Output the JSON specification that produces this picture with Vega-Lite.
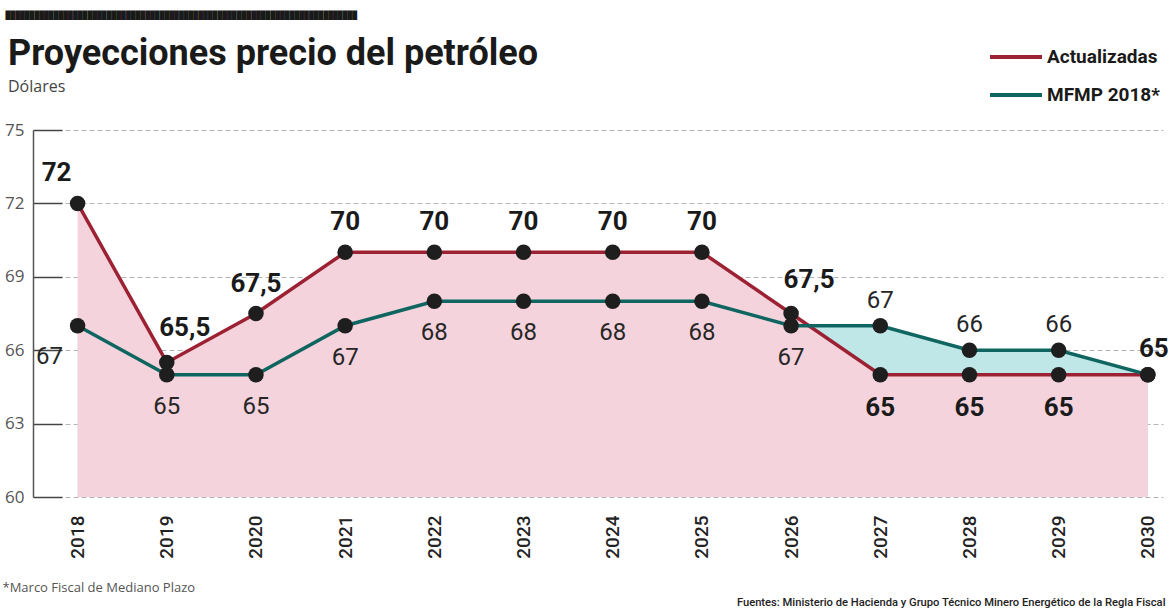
{
  "$schema": "https://vega.github.io/schema/vega-lite/v6.json",
  "width": 1130,
  "height": 367,
  "autosize": "none",
  "padding": {"left": 33, "top": 130, "right": 7, "bottom": 113},
  "background": "white",
  "config": {
    "view": {"stroke": null},
    "locale": {"number": {"decimal": ",", "thousands": ".", "grouping": [3], "currency": ["", "$"]}}
  },
  "title": {
    "text": "Proyecciones precio del petróleo",
    "subtitle": "Dólares",
    "anchor": "start",
    "frame": "group",
    "dx": -25,
    "dy": 89,
    "font": "Roboto",
    "fontSize": 36,
    "fontWeight": "bold",
    "color": "#1a1a1a",
    "subtitleFont": "Open Sans",
    "subtitleFontSize": 16,
    "subtitleColor": "#444444",
    "subtitlePadding": 6
  },
  "data": {
    "values": [
      {"year": 2018, "serie": "Actualizadas", "value": 72},
      {"year": 2019, "serie": "Actualizadas", "value": 65.5},
      {"year": 2020, "serie": "Actualizadas", "value": 67.5},
      {"year": 2021, "serie": "Actualizadas", "value": 70},
      {"year": 2022, "serie": "Actualizadas", "value": 70},
      {"year": 2023, "serie": "Actualizadas", "value": 70},
      {"year": 2024, "serie": "Actualizadas", "value": 70},
      {"year": 2025, "serie": "Actualizadas", "value": 70},
      {"year": 2026, "serie": "Actualizadas", "value": 67.5},
      {"year": 2027, "serie": "Actualizadas", "value": 65},
      {"year": 2028, "serie": "Actualizadas", "value": 65},
      {"year": 2029, "serie": "Actualizadas", "value": 65},
      {"year": 2030, "serie": "Actualizadas", "value": 65},
      {"year": 2018, "serie": "MFMP 2018*", "value": 67},
      {"year": 2019, "serie": "MFMP 2018*", "value": 65},
      {"year": 2020, "serie": "MFMP 2018*", "value": 65},
      {"year": 2021, "serie": "MFMP 2018*", "value": 67},
      {"year": 2022, "serie": "MFMP 2018*", "value": 68},
      {"year": 2023, "serie": "MFMP 2018*", "value": 68},
      {"year": 2024, "serie": "MFMP 2018*", "value": 68},
      {"year": 2025, "serie": "MFMP 2018*", "value": 68},
      {"year": 2026, "serie": "MFMP 2018*", "value": 67},
      {"year": 2027, "serie": "MFMP 2018*", "value": 67},
      {"year": 2028, "serie": "MFMP 2018*", "value": 66},
      {"year": 2029, "serie": "MFMP 2018*", "value": 66},
      {"year": 2030, "serie": "MFMP 2018*", "value": 65}
    ]
  },
  "resolve": {"axis": {"y": "independent"}},
  "encoding": {
    "x": {
      "field": "year", "type": "quantitative",
      "scale": {"domain": [2017.5, 2030.17], "nice": false, "zero": false},
      "axis": {
        "values": [2018, 2019, 2020, 2021, 2022, 2023, 2024, 2025, 2026, 2027, 2028, 2029, 2030],
        "format": "d", "labelAngle": -90, "labelAlign": "right", "labelBaseline": "middle",
        "labelFont": "Roboto", "labelFontSize": 19, "labelFontWeight": 500, "labelColor": "#222222",
        "labelPadding": 18, "ticks": false, "tickSize": 0, "domain": false, "grid": false,
        "title": "*Marco Fiscal de Mediano Plazo",
        "titleX": -31, "titleY": 90, "titleAlign": "left", "titleAnchor": "start", "titleBaseline": "middle",
        "titleFont": "Open Sans", "titleFontSize": 13, "titleFontWeight": "normal", "titleColor": "#555555"
      }
    }
  },
  "layer": [
    {
      "transform": [{"filter": "datum.serie === 'MFMP 2018*'"}],
      "mark": {"type": "area", "color": "#bfe7e8", "opacity": 1},
      "encoding": {
        "y": {
          "field": "value", "type": "quantitative",
          "scale": {"domain": [60, 75], "nice": false, "zero": false},
          "axis": {
            "orient": "left",
            "values": [60, 63, 66, 69, 72, 75],
            "grid": true, "gridDash": [5, 3], "gridColor": "#b5b5b5", "gridWidth": 1,
            "domain": true, "domainColor": "#555555", "domainWidth": 1.5,
            "ticks": true, "tickSize": -29, "tickColor": "#444444", "tickWidth": 1.5,
            "labelPadding": 38, "labelFont": "Open Sans", "labelFontSize": 17, "labelColor": "#555555",
            "title": "Fuentes: Ministerio de Hacienda y Grupo Técnico Minero Energético de la Regla Fiscal",
            "titleX": 1132, "titleY": 472, "titleAngle": 0, "titleAlign": "right", "titleBaseline": "middle",
            "titleFont": "Roboto", "titleFontSize": 11.2, "titleFontWeight": 500, "titleColor": "#222222"
          }
        },
        "y2": {"datum": 60}
      }
    },
    {
      "transform": [{"filter": "datum.serie === 'Actualizadas'"}],
      "mark": {"type": "area", "color": "#f4d3dc", "opacity": 1},
      "encoding": {
        "y": {
          "field": "value", "type": "quantitative",
          "axis": {
            "orient": "right", "labels": false, "ticks": false, "domain": false, "grid": false,
            "title": "█████████████████████████████████████████████████████████████████████████",
            "titleX": -1158, "titleY": -115, "titleAngle": 0, "titleAlign": "left", "titleBaseline": "middle",
            "titleFont": "DejaVu Sans Mono", "titleFontSize": 8, "titleFontWeight": "normal", "titleColor": "#1a1a1a"
          }
        },
        "y2": {"datum": 60}
      }
    },
    {
      "mark": {"type": "line", "strokeWidth": 3.5},
      "encoding": {
        "y": {"field": "value", "type": "quantitative", "axis": null},
        "color": {
          "field": "serie", "type": "nominal",
          "scale": {"domain": ["Actualizadas", "MFMP 2018*"], "range": ["#9c2233", "#0f6660"]},
          "legend": {
            "orient": "none", "legendX": 955, "legendY": -101, "title": null, "padding": 0,
            "symbolType": "stroke", "symbolSize": 2700, "symbolStrokeWidth": 4,
            "labelFont": "Roboto", "labelFontSize": 19, "labelFontWeight": "bold", "labelColor": "#1a1a1a",
            "labelOffset": 3, "rowPadding": -17
          }
        }
      }
    },
    {
      "mark": {"type": "circle", "size": 240, "color": "#1e1e1e", "opacity": 1},
      "encoding": {
        "y": {"field": "value", "type": "quantitative", "axis": null}
      }
    },
    {
      "transform": [{"filter": "datum.serie === 'Actualizadas' && indexof([2020,2021,2022,2023,2024,2025], datum.year) >= 0"}],
      "mark": {"type": "text", "font": "Roboto", "fontSize": 26, "fontWeight": "bold", "color": "#1a1a1a", "baseline": "middle", "dy": -30},
      "encoding": {
        "y": {"field": "value", "type": "quantitative", "axis": null},
        "text": {"field": "value", "type": "quantitative", "format": ".1~f"}
      }
    },
    {
      "transform": [{"filter": "datum.serie === 'Actualizadas' && datum.year === 2018"}],
      "mark": {"type": "text", "font": "Roboto", "fontSize": 26, "fontWeight": "bold", "color": "#1a1a1a", "baseline": "middle", "dy": -30, "dx": -21},
      "encoding": {
        "y": {"field": "value", "type": "quantitative", "axis": null},
        "text": {"field": "value", "type": "quantitative", "format": ".1~f"}
      }
    },
    {
      "transform": [{"filter": "datum.serie === 'Actualizadas' && (datum.year === 2019 || datum.year === 2026)"}],
      "mark": {"type": "text", "font": "Roboto", "fontSize": 26, "fontWeight": "bold", "color": "#1a1a1a", "baseline": "middle", "dy": -34, "dx": 18},
      "encoding": {
        "y": {"field": "value", "type": "quantitative", "axis": null},
        "text": {"field": "value", "type": "quantitative", "format": ".1~f"}
      }
    },
    {
      "transform": [{"filter": "datum.serie === 'Actualizadas' && indexof([2027,2028,2029], datum.year) >= 0"}],
      "mark": {"type": "text", "font": "Roboto", "fontSize": 26, "fontWeight": "bold", "color": "#1a1a1a", "baseline": "middle", "dy": 33},
      "encoding": {
        "y": {"field": "value", "type": "quantitative", "axis": null},
        "text": {"field": "value", "type": "quantitative", "format": ".1~f"}
      }
    },
    {
      "transform": [{"filter": "datum.serie === 'Actualizadas' && datum.year === 2030"}],
      "mark": {"type": "text", "font": "Roboto", "fontSize": 26, "fontWeight": "bold", "color": "#1a1a1a", "baseline": "middle", "dy": -26, "dx": 6},
      "encoding": {
        "y": {"field": "value", "type": "quantitative", "axis": null},
        "text": {"field": "value", "type": "quantitative", "format": ".1~f"}
      }
    },
    {
      "transform": [{"filter": "datum.serie === 'MFMP 2018*' && datum.year === 2018"}],
      "mark": {"type": "text", "font": "Roboto", "fontSize": 24, "color": "#262626", "baseline": "middle", "dy": 31, "dx": -28},
      "encoding": {
        "y": {"field": "value", "type": "quantitative", "axis": null},
        "text": {"field": "value", "type": "quantitative", "format": ".1~f"}
      }
    },
    {
      "transform": [{"filter": "datum.serie === 'MFMP 2018*' && indexof([2019,2020,2021,2022,2023,2024,2025,2026], datum.year) >= 0"}],
      "mark": {"type": "text", "font": "Roboto", "fontSize": 24, "color": "#262626", "baseline": "middle", "dy": 32},
      "encoding": {
        "y": {"field": "value", "type": "quantitative", "axis": null},
        "text": {"field": "value", "type": "quantitative", "format": ".1~f"}
      }
    },
    {
      "transform": [{"filter": "datum.serie === 'MFMP 2018*' && indexof([2027,2028,2029], datum.year) >= 0"}],
      "mark": {"type": "text", "font": "Roboto", "fontSize": 24, "color": "#262626", "baseline": "middle", "dy": -25},
      "encoding": {
        "y": {"field": "value", "type": "quantitative", "axis": null},
        "text": {"field": "value", "type": "quantitative", "format": ".1~f"}
      }
    }
  ]
}
